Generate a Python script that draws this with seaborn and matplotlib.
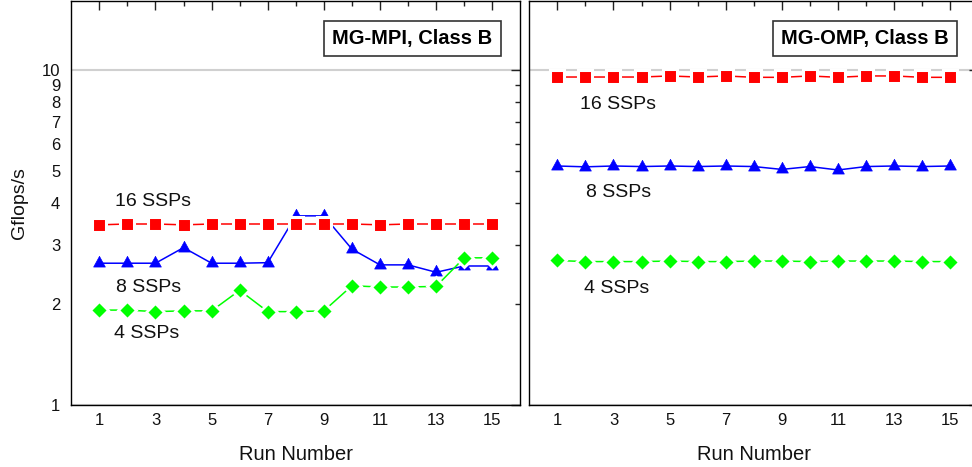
import matplotlib
matplotlib.use("Agg")
import matplotlib.pyplot as plt
from matplotlib.ticker import FixedLocator, FixedFormatter, NullFormatter
import seaborn as sns

# ---------------- data ----------------
runs = list(range(1, 16))
series_names = ["16 SSPs", "8 SSPs", "4 SSPs"]

mpi_16 = [3.45, 3.47, 3.47, 3.45, 3.47, 3.47, 3.47, 3.47, 3.47, 3.47, 3.45, 3.47, 3.47, 3.47, 3.47]
mpi_8 = [2.65, 2.65, 2.65, 2.95, 2.65, 2.65, 2.66, 3.67, 3.67, 2.92, 2.62, 2.62, 2.49, 2.60, 2.60]
mpi_4 = [1.92, 1.92, 1.90, 1.91, 1.91, 2.20, 1.90, 1.90, 1.91, 2.27, 2.25, 2.25, 2.26, 2.75, 2.75]

omp_16 = [9.53, 9.53, 9.53, 9.53, 9.60, 9.53, 9.60, 9.51, 9.51, 9.60, 9.51, 9.60, 9.60, 9.51, 9.51]
omp_8 = [5.17, 5.14, 5.17, 5.15, 5.17, 5.15, 5.17, 5.15, 5.05, 5.15, 5.03, 5.15, 5.17, 5.15, 5.17]
omp_4 = [2.70, 2.68, 2.68, 2.68, 2.69, 2.68, 2.68, 2.69, 2.69, 2.68, 2.69, 2.69, 2.69, 2.68, 2.68]

panel_titles = ["MG-MPI, Class B", "MG-OMP, Class B"]
y_tick_values = [1, 2, 3, 4, 5, 6, 7, 8, 9, 10]
y_tick_labels = ["1", "2", "3", "4", "5", "6", "7", "8", "9", "10"]
x_major_ticks = [1, 3, 5, 7, 9, 11, 13, 15]
x_minor_ticks = [2, 4, 6, 8, 10, 12, 14]
x_label = "Run Number"
y_label = "Gflops/s"

# ---------------- styles ----------------
sns.set_style("white")
plt.rcParams["font.family"] = ["Liberation Sans", "DejaVu Sans"]

# triangle centred on its centroid
tri_marker = [(0.0, 2.0 / 3.0), (-0.55, -1.0 / 3.0), (0.55, -1.0 / 3.0), (0.0, 2.0 / 3.0)]

styles = {
    "16 SSPs": dict(color="#ff0000", marker="s", markersize=9.4, markeredgewidth=2.2,
                    markeredgecolor="white", zorder=5),
    "8 SSPs": dict(color="#0000ff", marker=tri_marker, markersize=10.2, markeredgewidth=0.5,
                   markeredgecolor="#0000ff", zorder=3),
    "4 SSPs": dict(color="#00ff00", marker="D", markersize=9.0, markeredgewidth=2.0,
                   markeredgecolor="white", zorder=4),
}

# label positions (data coords, left/baseline)
label_pos = [
    {"16 SSPs": (1.55, 3.94), "8 SSPs": (1.59, 2.17), "4 SSPs": (1.53, 1.58)},
    {"16 SSPs": (1.81, 7.65), "8 SSPs": (2.02, 4.17), "4 SSPs": (1.96, 2.16)},
]
title_cx = [0.760, 0.748]

W, H = 972, 467
fig = plt.figure(figsize=(W / 100, H / 100), dpi=100)
ax_w = 449 / W
ax_b = (H - 405) / H
ax_h = 404 / H
axes = [fig.add_axes([71.3 / W, ax_b, ax_w, ax_h]),
        fig.add_axes([529.3 / W, ax_b, ax_w, ax_h])]

panels = [dict(zip(series_names, [mpi_16, mpi_8, mpi_4])),
          dict(zip(series_names, [omp_16, omp_8, omp_4]))]

for i, ax in enumerate(axes):
    data = panels[i]
    for name in ["8 SSPs", "4 SSPs", "16 SSPs"]:
        st = styles[name]
        sns.lineplot(x=runs, y=data[name], ax=ax, linewidth=1.1, **st)
        lx, ly = label_pos[i][name]
        ax.text(lx, ly, name, fontsize=14, ha="left", va="baseline", color="#111111")

    ax.set_yscale("log")
    ax.set_xlim(0, 16)
    ax.set_ylim(1, 16.07)

    ax.xaxis.set_major_locator(FixedLocator(x_major_ticks))
    ax.xaxis.set_major_formatter(FixedFormatter([str(v) for v in x_major_ticks]))
    ax.xaxis.set_minor_locator(FixedLocator(x_minor_ticks))
    ax.xaxis.set_minor_formatter(NullFormatter())

    ax.yaxis.set_major_locator(FixedLocator([1, 10]))
    ax.yaxis.set_minor_locator(FixedLocator(y_tick_values[1:-1]))
    if i == 0:
        ax.yaxis.set_major_formatter(FixedFormatter(["1", "10"]))
        ax.yaxis.set_minor_formatter(FixedFormatter(y_tick_labels[1:-1]))
    else:
        ax.yaxis.set_major_formatter(NullFormatter())
        ax.yaxis.set_minor_formatter(NullFormatter())

    ax.tick_params(which="both", direction="in", top=True, right=True,
                   width=1.0, color="#222222", labelsize=12, labelcolor="#111111")
    ax.tick_params(which="major", length=6.5)
    ax.tick_params(which="minor", length=3.6)
    ax.tick_params(axis="y", which="both", pad=8)
    ax.tick_params(axis="x", which="both", pad=5.5)

    ax.yaxis.grid(True, which="major", color="#d0d0d0", linewidth=1.5)
    ax.xaxis.grid(False)
    ax.set_axisbelow(True)
    for sp in ax.spines.values():
        sp.set_color("black")
        sp.set_linewidth(1.0)

    ax.set_xlabel(x_label, fontsize=14.5, color="#111111")
    ax.xaxis.set_label_coords(0.5, -0.099)
    if i == 0:
        ax.set_ylabel(y_label, fontsize=14, color="#111111")
        ax.yaxis.set_label_coords(-0.097, 0.5)
    else:
        ax.set_ylabel("")

    ax.text(title_cx[i], 0.908, panel_titles[i], transform=ax.transAxes,
            ha="center", va="center", fontsize=14.5, fontweight="bold", color="black",
            bbox=dict(boxstyle="square,pad=0.4", fc="white", ec="#333333", lw=1.2),
            zorder=10)

fig.savefig("out.png", dpi=100)
